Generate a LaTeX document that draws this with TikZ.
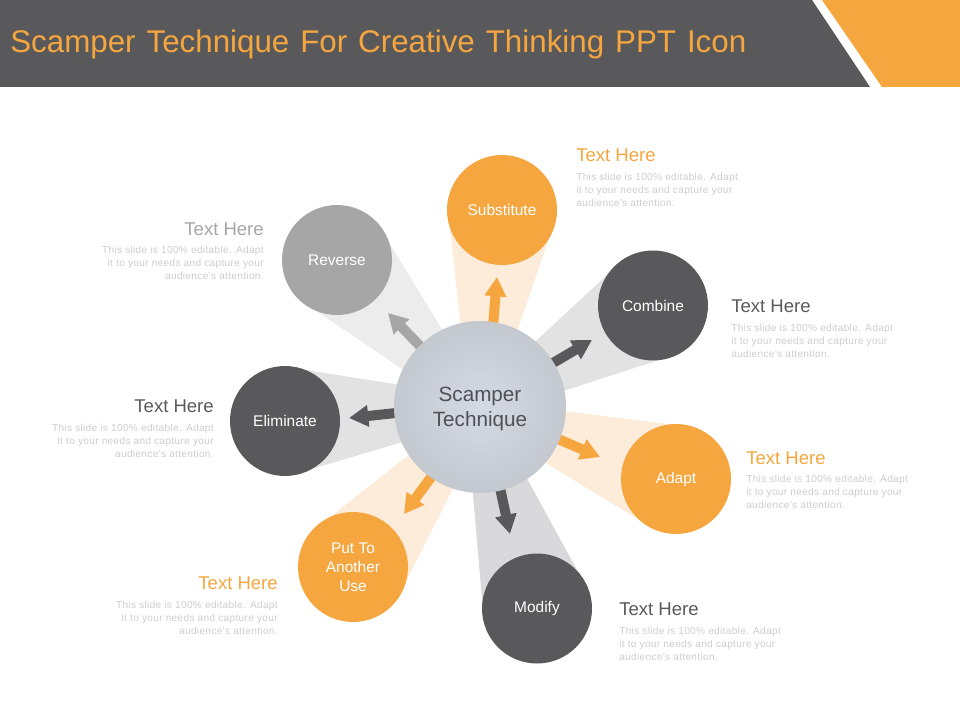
\documentclass[tikz,border=0pt]{standalone}
\usepackage{fontspec}
\setmainfont{Liberation Sans}
\usetikzlibrary{calc,arrows.meta}
\definecolor{slate}{RGB}{89,89,91}
\definecolor{amber}{RGB}{245,166,63}
\definecolor{amberfan}{RGB}{253,236,217}
\definecolor{greyfan}{RGB}{226,226,227}
\definecolor{greyfanb}{RGB}{217,217,219}
\definecolor{greyfanc}{RGB}{236,236,236}
\definecolor{midgrey}{RGB}{166,166,166}
\definecolor{faint}{RGB}{205,205,207}
\definecolor{hubtext}{RGB}{80,80,85}
\definecolor{hubin}{RGB}{212,218,228}
\definecolor{hubmid}{RGB}{196,200,207}
\definecolor{hubout}{RGB}{172,174,178}
\pgfdeclareradialshading{hubshade}{\pgfpoint{0bp}{0bp}}{color(0bp)=(hubin); color(25bp)=(hubmid); color(50bp)=(hubout)}
\newcommand{\spacedbody}{\addfontfeature{LetterSpace=3}}
\tikzset{
  spoke/.style={circle,minimum size=82.5pt,inner sep=0pt,text=white,align=center,
    font=\fontsize{11.6}{14.3}\selectfont},
  hubnode/.style={circle,minimum size=129pt,inner sep=0pt,align=center,shading=hubshade},
  hublabel/.style={inner sep=0pt,text=hubtext,align=center,font=\fontsize{15.5}{18.8}\selectfont},
  headl/.style={anchor=west,inner sep=0pt,font=\fontsize{13.9}{16}\selectfont},
  headr/.style={anchor=east,inner sep=0pt,font=\fontsize{13.9}{16}\selectfont},
  descl/.style={anchor=west,inner sep=0pt,align=left,text=faint,font=\fontsize{7.6}{10}\selectfont\spacedbody},
  descr/.style={anchor=east,inner sep=0pt,align=right,text=faint,font=\fontsize{7.6}{10}\selectfont\spacedbody},
  fat/.style={line width=7.5pt,-{Triangle[width=15.5pt,length=14.5pt]}},
}
% #1 spoke node, #2 colour, #3 shift of the fan's narrow end
\newcommand{\fan}[3]{\fill[#2] ($(hub.center)!8pt!90:(#1.center)+(#3)$) -- ($(hub.center)!8pt!-90:(#1.center)+(#3)$)
  -- ($(#1.center)!41.25pt!90:(hub.center)$) -- ($(#1.center)!41.25pt!-90:(hub.center)$) -- cycle;}
\newcommand{\bodytext}{This slide is 100\% editable. Adapt\\it to your needs and capture your\\audience's attention.}
\begin{document}
\begin{tikzpicture}[x=0.75pt,y=-0.75pt]
\useasboundingbox (0,0) rectangle (960,720);
\fill[slate] (0,0) -- (812,0) -- (870,87) -- (0,87) -- cycle;
\fill[amber] (822,0) -- (960,0) -- (960,87) -- (882,87) -- cycle;
\node[anchor=west,inner sep=0pt,text=amber,font=\fontsize{23.5}{28}\selectfont] (title) at (10,44)
  {\spaceskip=8.2pt\relax Scamper Technique For Creative Thinking PPT Icon};
% placement of the nodes (drawn later, so the fans lie beneath)
\path (480,407) node[circle,minimum size=129pt,inner sep=0pt] (hub) {}
  (502,210) node[spoke] (sub) {}
  (653,305.5) node[spoke] (com) {}
  (676,479) node[spoke] (ada) {}
  (537,608.5) node[spoke] (mod) {}
  (353,567) node[spoke] (put) {}
  (285,421) node[spoke] (eli) {}
  (337,260) node[spoke] (rev) {};
\fan{sub}{amberfan}{0,0}
\fan{com}{greyfan}{0,0}
\fan{ada}{amberfan}{0,4}
\fan{mod}{greyfanb}{-4,0}
\fan{put}{amberfan}{0,5}
\fan{eli}{greyfan}{0,1}
\fan{rev}{greyfanc}{-3,0}
% arrow ends
\coordinate (a1s) at (493,326); \coordinate (a1e) at (497,277);
\coordinate (a2s) at (553,363); \coordinate (a2e) at (592,340);
\coordinate (a3s) at (558,439); \coordinate (a3e) at (600,457);
\coordinate (a4s) at (500,488); \coordinate (a4e) at (510,534);
\coordinate (a5s) at (432,476); \coordinate (a5e) at (404,514);
\coordinate (a6s) at (396,413); \coordinate (a6e) at (349,418);
\coordinate (a7s) at (421,347); \coordinate (a7e) at (388,313);
\draw[fat,amber] (a1s) -- (a1e);
\draw[fat,slate] (a2s) -- (a2e);
\draw[fat,amber] (a3s) -- (a3e);
\draw[fat,slate] (a4s) -- (a4e);
\draw[fat,amber] (a5s) -- (a5e);
\draw[fat,slate] (a6s) -- (a6e);
\draw[fat,midgrey] (a7s) -- (a7e);
\node[hubnode] at (hub.center) {};
\node[hublabel] at (480,409) {Scamper\\Technique};
\node[spoke,fill=amber] at (sub.center) {Substitute};
\node[spoke,fill=slate] at (com.center) {Combine};
\node[spoke,fill=amber] at (ada.center) {Adapt};
\node[spoke,fill=slate] at (mod.center) {Modify};
\node[spoke,fill=amber] at (put.center) {Put To\\Another\\Use};
\node[spoke,fill=slate] at (eli.center) {Eliminate};
\node[spoke,fill=midgrey] at (rev.center) {Reverse};
% captions
\node[headl,text=amber] (h1) at (576,155.5) {Text Here};
\node[descl] (d1) at (576,190) {\bodytext};
\node[headl,text=slate] (h2) at (731,306.5) {Text Here};
\node[descl] (d2) at (731,341) {\bodytext};
\node[headl,text=amber] (h3) at (746,458.5) {Text Here};
\node[descl] (d3) at (746,492) {\bodytext};
\node[headl,text=slate] (h4) at (619,609.5) {Text Here};
\node[descl] (d4) at (619,644) {\bodytext};
\node[headr,text=amber] (h5) at (278,583.5) {Text Here};
\node[descr] (d5) at (278,618) {\bodytext};
\node[headr,text=slate] (h6) at (214,406.5) {Text Here};
\node[descr] (d6) at (214,441) {\bodytext};
\node[headr,text=midgrey] (h7) at (264,229.5) {Text Here};
\node[descr] (d7) at (264,263) {\bodytext};
\end{tikzpicture}
\end{document}
